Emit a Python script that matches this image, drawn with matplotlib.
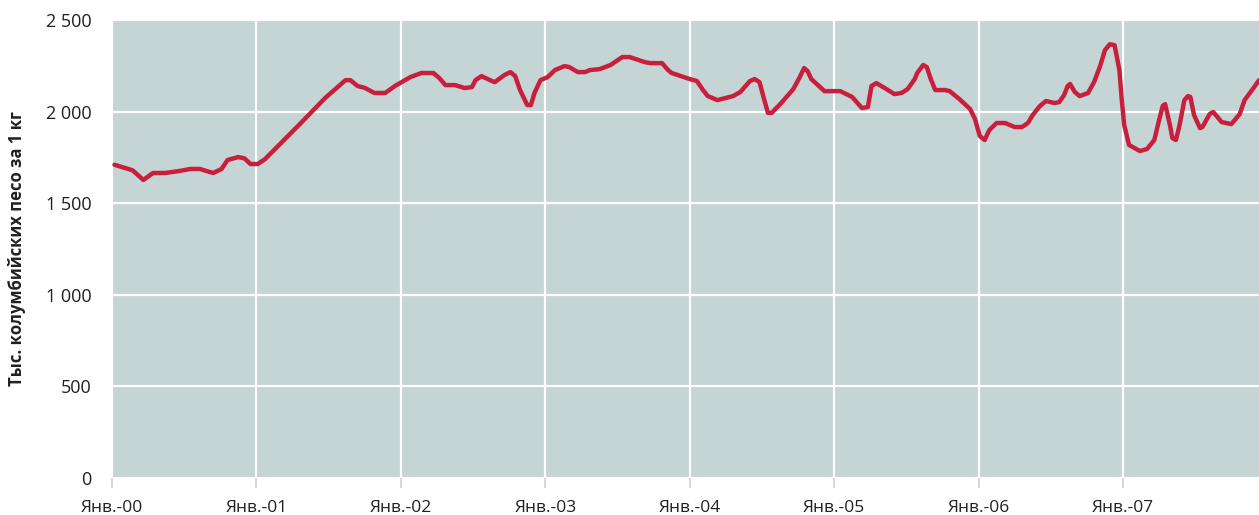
import numpy as np
import matplotlib
matplotlib.use('Agg')
import matplotlib.pyplot as plt

# месяцы от января 2000 года и цена (тыс. песо за 1 кг)
months = [0.2, 1.7, 2.6, 3.4, 4.4, 5.6, 6.5, 7.3, 8.4, 9.1, 9.6, 10.5, 11.0, 11.5,
          12.1, 12.7, 15.6, 17.7, 19.4, 19.8, 20.4, 21.0, 21.8, 22.7, 23.5, 24.8,
          25.7, 26.7, 27.2, 27.7, 28.5, 29.3, 29.9, 30.2, 30.7, 31.4, 31.8, 32.6,
          33.1, 33.5, 33.9, 34.5, 34.8, 35.1, 35.6, 36.2, 36.8, 37.6, 38.0, 38.7,
          39.3, 39.7, 40.5, 41.4, 42.4, 43.0, 44.3, 44.7, 45.7, 46.2, 46.5, 48.0,
          48.6, 49.1, 49.5, 50.3, 51.6, 52.2, 53.0, 53.4, 53.8, 54.2, 54.5, 54.8,
          55.6, 56.6, 57.1, 57.5, 57.8, 58.1, 59.2, 59.6, 60.5, 61.5, 62.3, 62.8,
          63.1, 63.5, 64.2, 65.0, 65.6, 66.1, 66.7, 66.9, 67.4, 67.7, 68.0, 68.4,
          69.2, 69.6, 70.4, 71.3, 71.7, 72.1, 72.5, 72.9, 73.5, 74.2, 75.0, 75.6,
          76.1, 76.5, 77.1, 77.6, 78.3, 78.7, 79.1, 79.4, 79.6, 80.0, 80.4, 81.1,
          81.6, 82.1, 82.5, 82.9, 83.3, 83.7, 83.9, 84.1, 84.5, 85.4, 86.0, 86.6,
          87.0, 87.3, 87.5, 87.9, 88.1, 88.4, 88.7, 89.1, 89.4, 89.6, 89.9, 90.4,
          90.6, 91.2, 91.5, 92.2, 93.0, 93.7, 94.1, 94.9, 95.3]
price = [1710, 1680, 1627, 1665, 1665, 1676, 1687, 1687, 1665, 1687, 1736, 1752, 1745, 1714,
         1714, 1740, 1932, 2074, 2172, 2172, 2140, 2130, 2102, 2102, 2140, 2189,
         2211, 2211, 2183, 2145, 2145, 2129, 2134, 2172, 2194, 2172, 2161, 2200,
         2216, 2194, 2118, 2036, 2036, 2102, 2172, 2189, 2227, 2249, 2243, 2216,
         2216, 2227, 2232, 2254, 2298, 2298, 2270, 2265, 2265, 2227, 2211, 2178,
         2167, 2118, 2085, 2063, 2085, 2107, 2167, 2178, 2161, 2063, 1993, 1993,
         2047, 2123, 2183, 2238, 2221, 2178, 2112, 2112, 2112, 2080, 2020, 2025,
         2140, 2156, 2129, 2096, 2102, 2123, 2178, 2211, 2255, 2243, 2183, 2118,
         2118, 2112, 2069, 2014, 1960, 1867, 1845, 1900, 1938, 1938, 1916, 1916,
         1938, 1982, 2031, 2058, 2047, 2052, 2090, 2140, 2151, 2107, 2085, 2102,
         2162, 2249, 2336, 2368, 2363, 2227, 2063, 1927, 1818, 1785, 1796, 1845,
         1954, 2031, 2041, 1927, 1856, 1845, 1927, 2063, 2085, 2080, 1982, 1910,
         1916, 1987, 1998, 1943, 1932, 1987, 2063, 2134, 2172]

years = ['00', '01', '02', '03', '04', '05', '06', '07']
tick_labels = ['Янв.-' + y for y in years]

plt.rcParams['font.family'] = ['Open Sans', 'DejaVu Sans']

fig = plt.figure(figsize=(12.59, 5.15), dpi=100)
ax = fig.add_axes([0.089, 0.072, 0.911, 0.889])
ax.set_facecolor('#c5d4d5')

ax.plot(months, price, color='#c8203c', linewidth=3.2, solid_capstyle='round',
        solid_joinstyle='round', zorder=3)

ax.set_xlim(0, 95.3)
ax.set_ylim(0, 2500)
ax.set_xticks([12 * i for i in range(len(years))])
ax.set_xticklabels(tick_labels, fontsize=12.5, color='#231f20')
yt = [0, 500, 1000, 1500, 2000, 2500]
ax.set_yticks(yt)
ax.set_yticklabels([f'{v:,}'.replace(',', ' ') for v in yt], fontsize=13, color='#231f20')

ax.grid(True, color='white', linewidth=1.6, zorder=1)
ax.set_axisbelow(True)
for s in ax.spines.values():
    s.set_visible(False)
ax.tick_params(axis='x', length=7, width=1.2, color='#c5d4d5', pad=9)
ax.tick_params(axis='y', length=0, pad=15)

ax.set_ylabel('Тыс. колумбийских песо за 1 кг', fontsize=12, fontweight='bold',
              color='#231f20', labelpad=14)

plt.savefig('out.png', dpi=100)
